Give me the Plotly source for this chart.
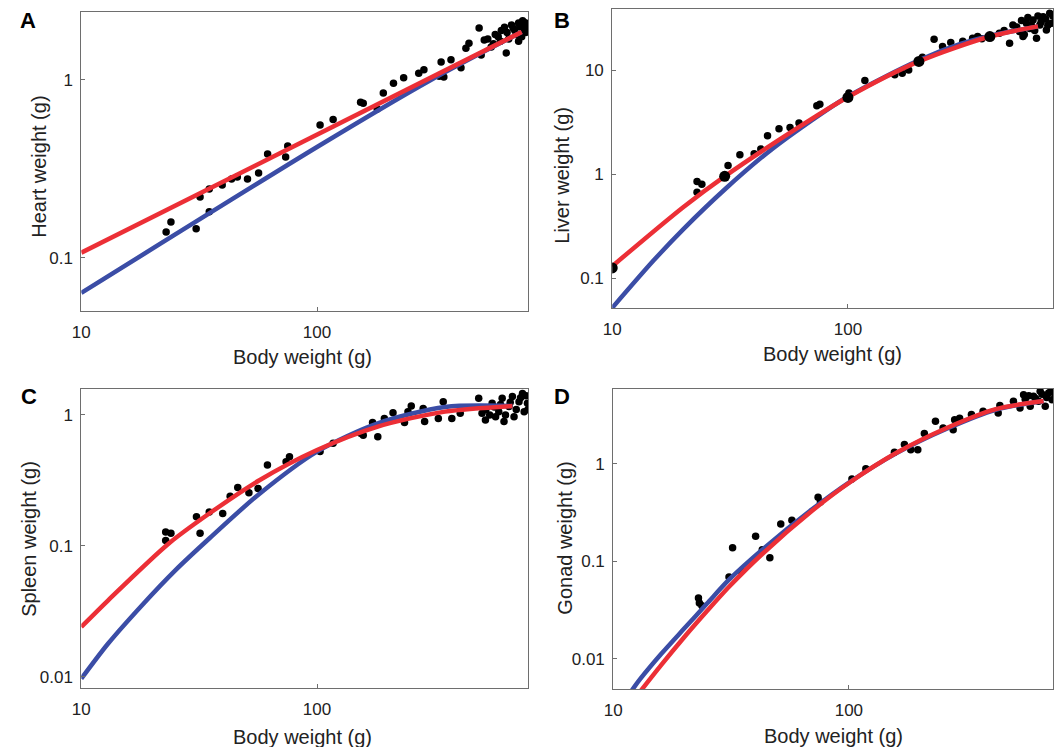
import plotly.graph_objects as go

W, H = 1054, 747

# ---------------- data ----------------
# Panel A: heart
heart_bw = [22.9, 24.0, 30.7, 31.9, 34.9, 34.9, 39.6, 43.4, 45.9, 50.7, 56.5, 61.7, 73.6, 75.1,
            103, 117, 153, 157, 180, 191, 211, 233, 270, 284, 330, 336, 345, 370, 408, 428, 441,
            487, 497, 512, 530, 548, 560, 570, 587, 600, 605, 624, 635, 640, 650, 668, 680, 690,
            700, 716, 716, 725, 738, 745, 750, 760, 765, 770, 780]
heart_wt = [0.14, 0.159, 0.146, 0.22, 0.244, 0.182, 0.257, 0.278, 0.285, 0.278, 0.30, 0.384, 0.369, 0.426,
            0.559, 0.60, 0.75, 0.74, 0.687, 0.845, 0.96, 1.03, 1.09, 1.14, 1.05, 1.26, 1.04, 1.3, 1.17, 1.51, 1.61,
            1.96, 1.38, 1.68, 1.7, 1.53, 1.6, 1.8, 1.75, 1.65, 1.9, 1.98, 1.42, 1.85, 1.7, 2.04, 1.95, 1.9,
            1.8, 2.09, 1.65, 2.0, 1.75, 2.15, 1.9, 1.95, 2.1, 1.85, 2.0]
heart_red_bw = [10, 738]
heart_red_wt = [0.107, 1.86]
heart_blue_bw = [10, 100, 300, 738]
heart_blue_wt = [0.0636, 0.42, 0.99, 1.86]

# Panel B: liver
liver_bw = [22.9, 22.9, 24, 31, 34.8, 40, 42.7, 45.6, 51, 56.8, 62, 73.8, 76, 101, 118, 158, 170, 181,
            207, 232, 252, 273, 307, 338, 355, 370, 439, 460, 485, 501, 520, 535, 545, 553, 560, 572,
            580, 590, 600, 610, 620, 631, 640, 652, 660, 673, 690, 695, 705, 718, 730, 740, 760, 775, 785]
liver_wt = [0.667, 0.85, 0.80, 1.21, 1.53, 1.57, 1.74, 2.33, 2.72, 2.81, 3.09, 4.53, 4.7, 6.0, 7.93, 9.0,
            9.33, 10, 13.3, 19.8, 16.8, 18.4, 18.9, 20.2, 21, 20, 22.6, 24, 18.1, 27.1, 26, 23.4, 30, 21,
            22, 28.2, 32, 25.1, 27, 30.3, 24, 20.2, 33, 27.1, 29, 32.6, 31, 24.3, 27, 35.2, 28.2, 33, 30,
            36, 28]
liver_big_bw = [10, 30, 100, 200, 400]
liver_big_wt = [0.125, 0.95, 5.45, 12.1, 21]
liver_red_bw = [10, 20, 30, 60, 100, 200, 400, 640]
liver_red_wt = [0.13, 0.48, 0.95, 2.7, 5.5, 12.1, 21, 26.3]
liver_blue_bw = [10, 15, 20, 30, 45, 60, 100, 200, 300, 400, 640]
liver_blue_wt = [0.0517, 0.148, 0.294, 0.71, 1.57, 2.56, 5.57, 12.4, 17.8, 21.3, 26.3]

# Panel C: spleen
spleen_bw = [22.8, 22.8, 24, 30.8, 31.9, 34.9, 39.8, 42.8, 46.1, 51.4, 56.2, 61.6, 73.9, 76.4, 103, 117,
             153, 157, 172, 181, 193, 210, 235, 243, 251, 282, 286, 327, 343, 373, 405, 485, 501, 518,
             520, 540, 553, 565, 572, 590, 600, 610, 621, 630, 652, 660, 674, 685, 700, 719, 730, 744,
             756, 770, 781, 785]
spleen_wt = [0.11, 0.128, 0.125, 0.167, 0.125, 0.182, 0.177, 0.24, 0.28, 0.255, 0.275, 0.415, 0.44, 0.48,
             0.525, 0.607, 0.724, 0.70, 0.874, 0.683, 0.94, 1.04, 0.874, 1.06, 1.17, 1.12, 0.89, 0.94, 1.26,
             0.94, 1.03, 1.34, 1.03, 0.915, 1.1, 1.0, 1.23, 1.15, 0.97, 1.06, 1.2, 1.34, 0.89, 1.0, 1.16,
             1.25, 1.38, 0.97, 1.1, 1.26, 1.35, 1.46, 1.06, 1.4, 1.23, 1.1]
spleen_red_bw = [10, 13, 23.5, 34.9, 57.2, 100, 181, 349, 674]
spleen_red_wt = [0.0241, 0.0385, 0.1045, 0.177, 0.319, 0.54, 0.815, 1.06, 1.17]
spleen_blue_bw = [10, 13, 18.1, 25.1, 34.9, 56.2, 100, 181, 349, 674]
spleen_blue_wt = [0.0097, 0.018, 0.0353, 0.0654, 0.114, 0.245, 0.525, 0.863, 1.15, 1.17]

# Panel D: gonad
gonad_bw = [23, 23.2, 23.8, 31, 32.1, 35, 40.2, 42.9, 46.2, 51.4, 57.3, 74, 75.7, 103, 118, 156, 172,
            183, 196, 209, 233, 251, 277, 281, 295, 331, 371, 430, 437, 499, 532, 551, 560, 580, 588,
            607, 620, 638, 648, 660, 681, 690, 704, 720, 728, 750]
gonad_wt = [0.0422, 0.0375, 0.0352, 0.0693, 0.138, 0.0793, 0.181, 0.132, 0.109, 0.243, 0.265, 0.455,
            0.408, 0.702, 0.895, 1.32, 1.58, 1.40, 1.40, 2.05, 2.74, 2.34, 2.25, 2.85, 2.95, 3.21, 3.47,
            3.34, 3.97, 4.39, 3.76, 5.14, 4.6, 5.0, 3.90, 4.94, 4.7, 4.39, 5.56, 5.2, 3.90, 4.8, 5.35,
            5.6, 4.57, 5.0]
gonad_red_bw = [13.0, 16, 20, 25, 31, 43, 70, 100, 160, 260, 420, 670]
gonad_red_wt = [0.00462, 0.0087, 0.0167, 0.031, 0.055, 0.12, 0.333, 0.638, 1.31, 2.34, 3.65, 4.42]
gonad_blue_bw = [11.8, 13, 16, 20, 25, 31, 43, 70, 100, 160, 260, 420, 670]
gonad_blue_wt = [0.0045, 0.0062, 0.0113, 0.0205, 0.037, 0.065, 0.133, 0.345, 0.645, 1.3, 2.3, 3.6, 4.42]

x_tick_vals = [10, 100]
x_tick_text = ["10", "100"]
panel_letters = ["A", "B", "C", "D"]
y_titles = ["Heart weight (g)", "Liver weight (g)", "Spleen weight (g)", "Gonad weight (g)"]
x_title = "Body weight (g)"
y_ticks = [[0.1, 1], [0.1, 1, 10], [0.01, 0.1, 1], [0.01, 0.1, 1]]
y_ticktext = [["0.1", "1"], ["0.1", "1", "10"], ["0.01", "0.1", "1"], ["0.01", "0.1", "1"]]

# ---------------- styling / layout ----------------
RED = "#EC2F36"
BLUE = "#3B4DA6"
FONT = "Liberation Sans, Arial, sans-serif"
AXC = "#6e6e6e"

# panel boxes in pixels: (left, right, top, bottom)
boxes = [(73, 524, 12, 311), (609, 1054, 9, 308), (73, 524, 389, 688), (610, 1054, 389, 689)]
xranges = [[1, 2.895], [1, 2.870], [1, 2.895], [1, 2.866]]
yranges = [[-1.298, 0.382], [-1.288, 1.587], [-2.084, 0.198], [-2.308, 0.769]]

fig = go.Figure()

panels = [
    (heart_bw, heart_wt, heart_blue_bw, heart_blue_wt, heart_red_bw, heart_red_wt, None, None),
    (liver_bw, liver_wt, liver_blue_bw, liver_blue_wt, liver_red_bw, liver_red_wt, liver_big_bw, liver_big_wt),
    (spleen_bw, spleen_wt, spleen_blue_bw, spleen_blue_wt, spleen_red_bw, spleen_red_wt, None, None),
    (gonad_bw, gonad_wt, gonad_blue_bw, gonad_blue_wt, gonad_red_bw, gonad_red_wt, None, None),
]

for i, (bx, by, blx, bly, rx, ry, gx, gy) in enumerate(panels):
    xa = "x" if i == 0 else f"x{i+1}"
    ya = "y" if i == 0 else f"y{i+1}"
    fig.add_trace(go.Scatter(x=bx, y=by, mode="markers", xaxis=xa, yaxis=ya,
                             marker=dict(color="black", size=7.5), showlegend=False))
    fig.add_trace(go.Scatter(x=blx, y=bly, mode="lines", xaxis=xa, yaxis=ya,
                             line=dict(color=BLUE, width=4.5, shape="spline", smoothing=0.8),
                             showlegend=False))
    fig.add_trace(go.Scatter(x=rx, y=ry, mode="lines", xaxis=xa, yaxis=ya,
                             line=dict(color=RED, width=4.5, shape="spline", smoothing=0.8),
                             showlegend=False))
    if gx is not None:
        fig.add_trace(go.Scatter(x=gx, y=gy, mode="markers", xaxis=xa, yaxis=ya,
                                 marker=dict(color="black", size=11), showlegend=False))

layout = dict(width=W, height=H, margin=dict(l=0, r=0, t=0, b=0),
              paper_bgcolor="white", plot_bgcolor="white", showlegend=False)

for i, (l, r, t, b) in enumerate(boxes):
    xk = "xaxis" if i == 0 else f"xaxis{i+1}"
    yk = "yaxis" if i == 0 else f"yaxis{i+1}"
    xa = "x" if i == 0 else f"x{i+1}"
    ya = "y" if i == 0 else f"y{i+1}"
    common = dict(type="log", showgrid=False, zeroline=False, showline=True, linecolor=AXC,
                  linewidth=1, mirror=True, ticks="inside", ticklen=4, tickcolor=AXC,
                  tickfont=dict(family=FONT, size=17, color="#222222"))
    layout[xk] = dict(common, domain=[l / W, r / W], range=xranges[i], anchor=ya,
                      tickvals=x_tick_vals, ticktext=x_tick_text, ticklabelstandoff=6)
    layout[yk] = dict(common, domain=[1 - b / H, 1 - t / H], range=yranges[i], anchor=xa,
                      tickvals=y_ticks[i], ticktext=y_ticktext[i], ticklabelstandoff=4)

fig.update_layout(**layout)

# text positions (pixels)
letter_pos = [(19, 20), (558, 20), (20, 397), (558, 397)]
xtitle_pos = [(296, 357), (831, 354), (296, 737), (832, 736)]
ytitle_pos = [(30, 167), (558, 175), (20, 539), (561, 538)]

for i in range(4):
    lx, ly = letter_pos[i]
    fig.add_annotation(text=f"<b>{panel_letters[i]}</b>", x=lx / W, y=1 - ly / H, xref="paper", yref="paper",
                       showarrow=False, xanchor="center", yanchor="middle",
                       font=dict(family=FONT, size=22, color="black"))
    tx, ty = xtitle_pos[i]
    fig.add_annotation(text=x_title, x=tx / W, y=1 - ty / H, xref="paper", yref="paper",
                       showarrow=False, xanchor="center", yanchor="middle",
                       font=dict(family=FONT, size=20, color="#222222"))
    vx, vy = ytitle_pos[i]
    fig.add_annotation(text=y_titles[i], x=vx / W, y=1 - vy / H, xref="paper", yref="paper",
                       showarrow=False, xanchor="center", yanchor="middle", textangle=-90,
                       font=dict(family=FONT, size=20, color="#222222"))

fig.write_html("out.html",
               config={"displayModeBar": False},
               post_script="document.body.style.margin='0px';document.body.style.padding='0px';"
                           "document.documentElement.style.overflow='hidden';")
